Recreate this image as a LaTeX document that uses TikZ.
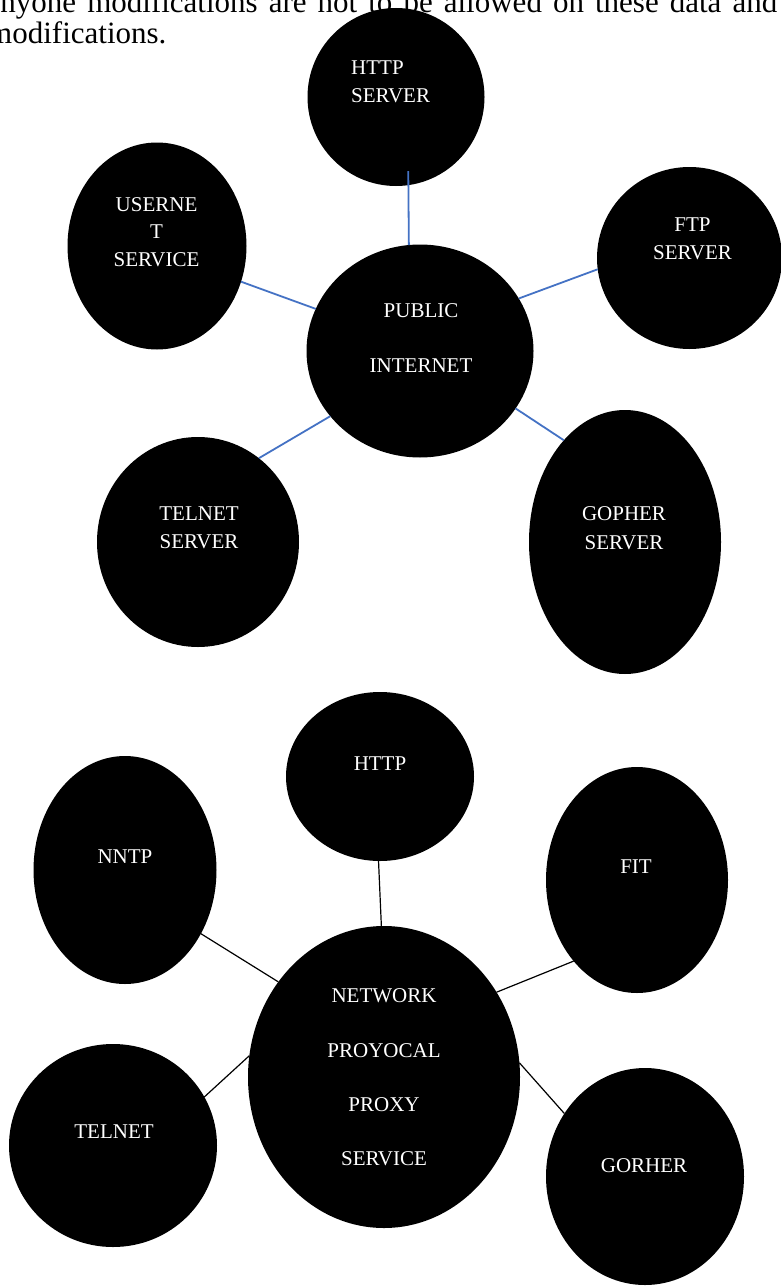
\documentclass[tikz,border=0pt]{standalone}
\usepackage{fontspec}
\setmainfont{Liberation Serif}
\usetikzlibrary{shapes.geometric}
\definecolor{linkblue}{HTML}{4472C4}
\begin{document}
\begin{tikzpicture}[x=1pt,y=-1pt,
  blob/.style={ellipse, fill=black, draw=none, inner sep=0pt, outer sep=0pt},
  lbl/.style={text=white, font=\fontsize{21}{25}\selectfont, inner sep=0pt, anchor=base},
  lblw/.style={lbl, anchor=base west},
  para/.style={text=black, font=\fontsize{31}{34}\selectfont, inner sep=0pt, anchor=base west},
  bluelink/.style={draw=linkblue, line width=1.8pt},
  blacklink/.style={draw=black, line width=1.2pt}]
\useasboundingbox (0,0) rectangle (781,1287);
\clip (0,0) rectangle (781,1287);

% paragraph text cut at the top
\node[para] (p1) at (-13.5,13) {\makebox[790.5pt][s]{anyone modifications are not to be allowed on these data and}};
\node[para] (p2) at (-12,44) {modifications.};

% ---------- upper diagram ----------
\node[blob, minimum width=177pt, minimum height=178pt] (httpS) at (396,97) {};
\node[blob, minimum width=179pt, minimum height=207pt] (user) at (157,246) {};
\node[blob, minimum width=185pt, minimum height=182pt] (ftp) at (689.5,258) {};
\node[blob, minimum width=227pt, minimum height=213pt] (pub) at (420,351) {};
\node[blob, minimum width=202pt, minimum height=210pt] (telS) at (198,542) {};
\node[blob, minimum width=192pt, minimum height=264pt] (goph) at (625,542) {};

\draw[bluelink, shorten <=-14pt] (httpS.-82.3) -- (pub.96.6);
\draw[bluelink] (user.-23.6) -- (pub.158.9);
\draw[bluelink] (ftp.-173.1) -- (pub.28.3);
\draw[bluelink] (telS.54) -- (pub.-144.8);
\draw[bluelink] (goph.121) -- (pub.-31.3);

\node[lblw] (t1a) at (351,75) {HTTP};
\node[lblw] (t1b) at (351,103) {SERVER};
\node[lbl] (t2a) at (156.5,211) {USERNE};
\node[lbl] (t2b) at (156.5,238.5) {T};
\node[lbl] (t2c) at (156.5,266) {SERVICE};
\node[lbl] (t3a) at (692.5,231) {FTP};
\node[lbl] (t3b) at (692.5,259) {SERVER};
\node[lbl] (t4a) at (421,317) {PUBLIC};
\node[lbl] (t4b) at (421,372) {INTERNET};
\node[lbl] (t5a) at (199,520) {TELNET};
\node[lbl] (t5b) at (199,548) {SERVER};
\node[lbl] (t6a) at (624,520) {GOPHER};
\node[lbl] (t6b) at (624,549) {SERVER};

% ---------- lower diagram ----------
\node[blob, minimum width=188pt, minimum height=169pt] (http2) at (380,776.5) {};
\node[blob, minimum width=183pt, minimum height=228pt] (nntp) at (125,870) {};
\node[blob, minimum width=182pt, minimum height=226pt] (fit) at (637,880) {};
\node[blob, minimum width=272pt, minimum height=302pt] (net) at (384,1077) {};
\node[blob, minimum width=208pt, minimum height=203pt] (tel2) at (113,1145.5) {};
\node[blob, minimum width=198pt, minimum height=217pt] (gor) at (645,1176.5) {};

\draw[blacklink] (http2.-91.4) -- (net.91.1);
\draw[blacklink] (nntp.-40.7) -- (net.138.8);
\draw[blacklink] (tel2.28.5) -- (net.171.5);
\draw[blacklink] (fit.-128.5) -- (net.37.7);
\draw[blacklink] (gor.142.1) -- (net.6.4);

\node[lbl] (u1) at (380,770) {HTTP};
\node[lbl] (u2) at (125,863) {NNTP};
\node[lbl] (u3) at (636,873) {FIT};
\node[lbl] (u4a) at (384,1002) {NETWORK};
\node[lbl] (u4b) at (384,1057) {PROYOCAL};
\node[lbl] (u4c) at (384,1111) {PROXY};
\node[lbl] (u4d) at (384,1165) {SERVICE};
\node[lbl] (u5) at (114,1138) {TELNET};
\node[lbl] (u6) at (644,1172) {GORHER};
\end{tikzpicture}
\end{document}
